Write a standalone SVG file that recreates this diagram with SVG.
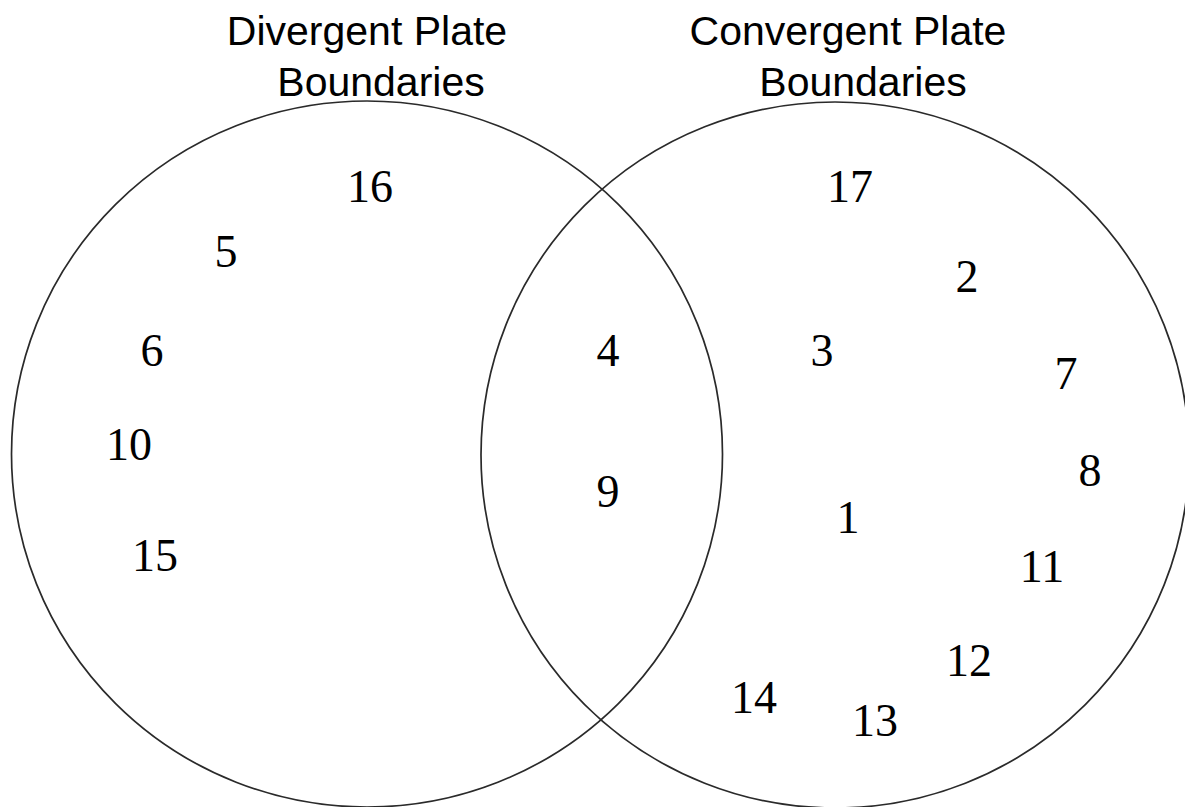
<svg xmlns="http://www.w3.org/2000/svg" width="1185" height="807" viewBox="0 0 1185 807">
<style>
.c{fill:none;stroke:#2a2a2a;stroke-width:1.7}
.t{font-family:"Liberation Sans",Arial,sans-serif;font-size:41px;fill:#000;text-anchor:middle}
.n{font-family:"Liberation Serif","Times New Roman",serif;font-size:46px;fill:#000;text-anchor:middle}
</style>
<rect width="1185" height="807" fill="#fff"/>
<g id="set-divergent">
<ellipse class="c" cx="367" cy="454" rx="355.5" ry="353"/>
<text class="t" x="367" y="45">Divergent Plate</text>
<text class="t" x="381" y="96">Boundaries</text>
</g>
<g id="set-convergent">
<ellipse class="c" cx="835" cy="455" rx="354" ry="353"/>
<text class="t" x="848" y="45">Convergent Plate</text>
<text class="t" x="863" y="96">Boundaries</text>
</g>
<g id="items">
<text class="n" x="370" y="202">16</text>
<text class="n" x="226" y="267">5</text>
<text class="n" x="152" y="366">6</text>
<text class="n" x="129" y="460">10</text>
<text class="n" x="155" y="571">15</text>
<text class="n" x="608" y="366">4</text>
<text class="n" x="608" y="507">9</text>
<text class="n" x="850" y="202">17</text>
<text class="n" x="967" y="292">2</text>
<text class="n" x="822" y="366">3</text>
<text class="n" x="1066" y="389">7</text>
<text class="n" x="1090" y="486">8</text>
<text class="n" x="848" y="533">1</text>
<text class="n" x="1042" y="582">11</text>
<text class="n" x="969" y="676">12</text>
<text class="n" x="754" y="713">14</text>
<text class="n" x="875" y="736">13</text>
</g>
</svg>
